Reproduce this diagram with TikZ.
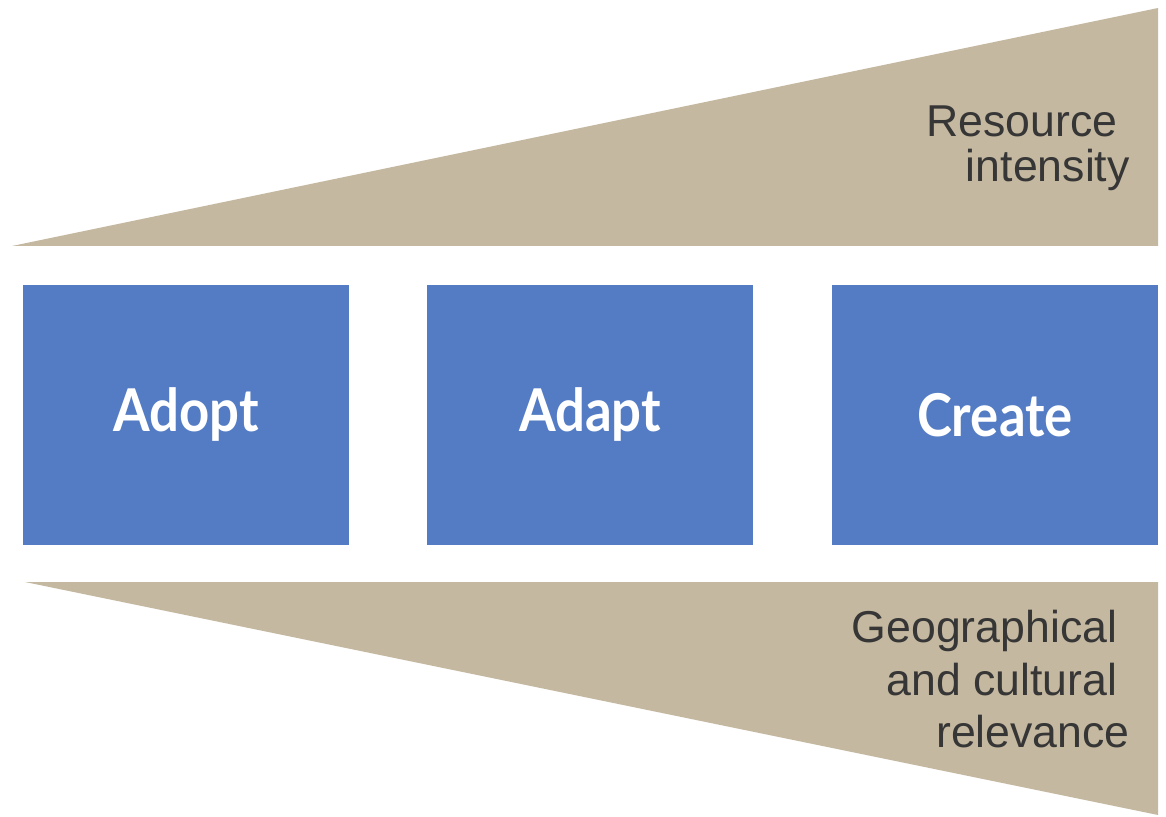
\documentclass[tikz,border=0pt]{standalone}
\usepackage{fontspec}
\setmainfont{Liberation Sans}
\newfontfamily\stagefont{Lato}
\usepackage{xcolor}
\definecolor{Sand}{HTML}{C5B8A0}
\definecolor{Steel Blue}{HTML}{547CC4}
\definecolor{Charcoal}{HTML}{363636}
\colorlet{cTan}{Sand}
\colorlet{cBlue}{Steel Blue}
\colorlet{cText}{Charcoal}
\usetikzlibrary{positioning}
\newcommand{\tall}[1]{\scalebox{1}[1.12]{#1}}
\tikzset{
	x = 0.02cm,
	y = -0.02cm,
	wedge/.style={
		fill=cTan,
		draw=none
	},
	stage/.style={
		fill=cBlue,
		draw=none,
		text=white,
		minimum width=326*0.02cm,
		minimum height=260*0.02cm,
		inner sep=0pt,
		font=\stagefont\bfseries\fontsize{30}{34}\selectfont
	},
	caption/.style={
		text=cText,
		align=right,
		anchor=north east,
		inner sep=0pt
	}
}

\begin{document}
\begin{tikzpicture}
		\useasboundingbox (0,0) rectangle (1166,817);

		% growing wedges
		\draw[wedge] (12,246) -- (1158,8) -- (1158,246) -- cycle;
		\draw[wedge] (25,582) -- (1158,582) -- (1158,815) -- cycle;

		\node[stage] (adopt) at (186,415) {\tall{Adopt}};
		\node[stage] (adapt) at (590,415) {\tall{Adapt}};
		\node[stage] (create) at (995,415) {\tall{Create}};

		\node[caption, font=\fontsize{25.4}{25.6}\selectfont] (resource) at (1130,105)
			{Resource\kern.28em\\intensity};
		\node[caption, font=\fontsize{25.4}{29.9}\selectfont] (relevance) at (1130,610)
			{Geographical\kern.28em\\and cultural\kern.28em\\relevance};
	\end{tikzpicture}
\end{document}
